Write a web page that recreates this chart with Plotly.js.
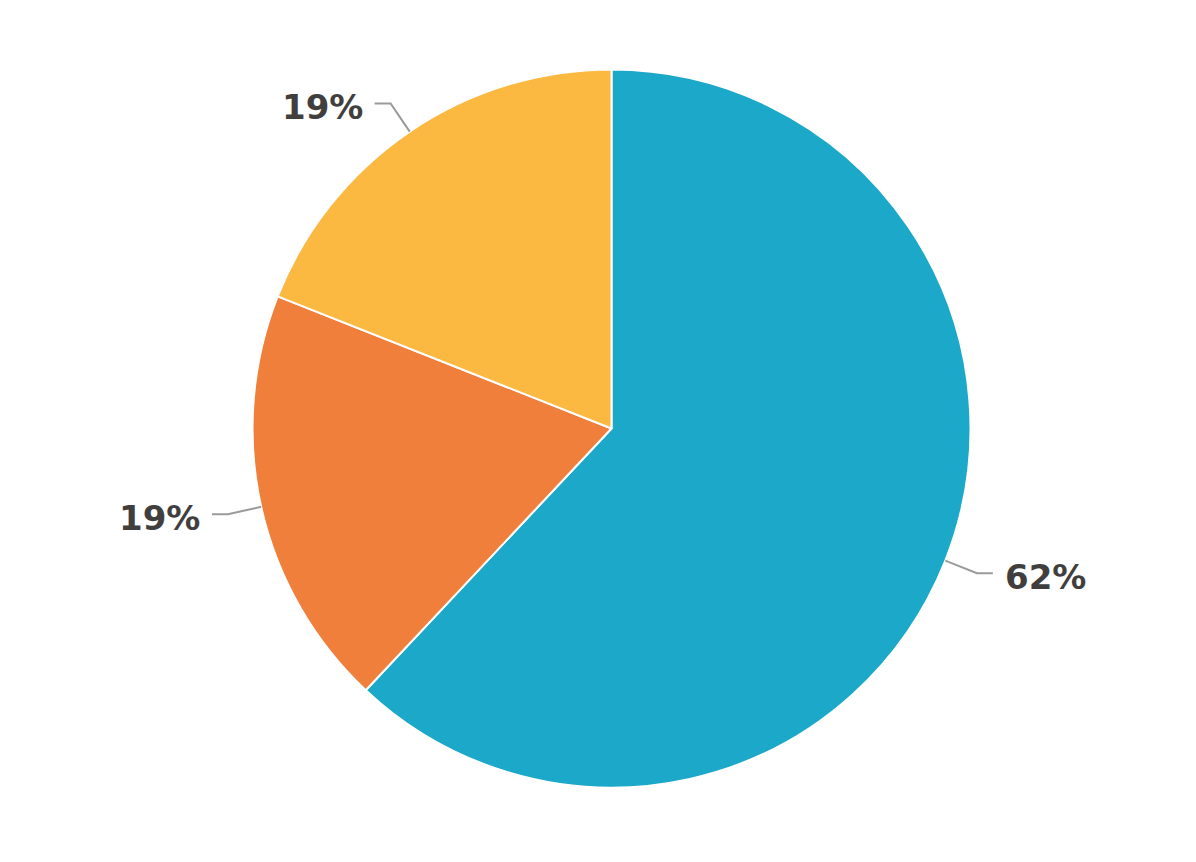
<!DOCTYPE html>
<html>
<head>
<meta charset="utf-8">
<script src="https://cdn.plot.ly/plotly-3.0.1.min.js"></script>
<style>html,body{margin:0;padding:0;background:#fff;}#chart{width:1196px;height:862px;}</style>
</head>
<body>
<div id="chart"></div>
<script>
// Data
const labels = ["A", "B", "C"];
const values = [62, 19, 19];
const colors = ["#1ba8c9", "#f07f3c", "#fbb941"];

// Layout geometry (pixels)
const W = 1196, H = 862;
const CX = 611.5, CY = 428.5, R = 359;
const EXT = 34, HOR = 16, GAP = 10;

const domX = [(CX - R) / W, (CX + R) / W];
const domY = [(H - CY - R) / H, (H - CY + R) / H];

const total = values.reduce((a, b) => a + b, 0);
const shapes = [];
const annotations = [];
let cum = 0;
values.forEach((v, i) => {
  const midFrac = (cum + v / 2) / total;
  cum += v;
  // clockwise from 12 o'clock, screen coords
  const ang = midFrac * 2 * Math.PI;
  const dx = Math.sin(ang), dy = -Math.cos(ang);
  const x0 = CX + R * dx, y0 = CY + R * dy;
  const x1 = CX + (R + EXT) * dx, y1 = CY + (R + EXT) * dy;
  const side = dx >= 0 ? 1 : -1;
  const x2 = x1 + side * HOR;
  const toP = (px, py) => [px / W, 1 - py / H];
  const p0 = toP(x0, y0), p1 = toP(x1, y1), p2 = toP(x2, y1);
  shapes.push({
    type: "path", xref: "paper", yref: "paper",
    path: `M ${p0[0]} ${p0[1]} L ${p1[0]} ${p1[1]} L ${p2[0]} ${p2[1]}`,
    line: {color: "#9a9a9a", width: 2}
  });
  const pt = toP(x2 + side * GAP, y1);
  annotations.push({
    xref: "paper", yref: "paper", x: pt[0], y: pt[1],
    xanchor: side > 0 ? "left" : "right", yanchor: "middle", yshift: -4,
    showarrow: false,
    text: Math.round(v / total * 100) + "%",
    font: {family: "DejaVu Sans", size: 34, color: "#413e3e", weight: "bold"}
  });
});

const trace = {
  type: "pie",
  labels: labels,
  values: values,
  sort: false,
  direction: "clockwise",
  rotation: 0,
  marker: {colors: colors, line: {color: "#ffffff", width: 2}},
  textinfo: "none",
  hoverinfo: "none",
  domain: {x: domX, y: domY}
};

const layout = {
  width: W, height: H,
  margin: {l: 0, r: 0, t: 0, b: 0},
  showlegend: false,
  paper_bgcolor: "#ffffff",
  shapes: shapes,
  annotations: annotations
};

Plotly.newPlot("chart", [trace], layout, {displayModeBar: false, staticPlot: true});
</script>
</body>
</html>
